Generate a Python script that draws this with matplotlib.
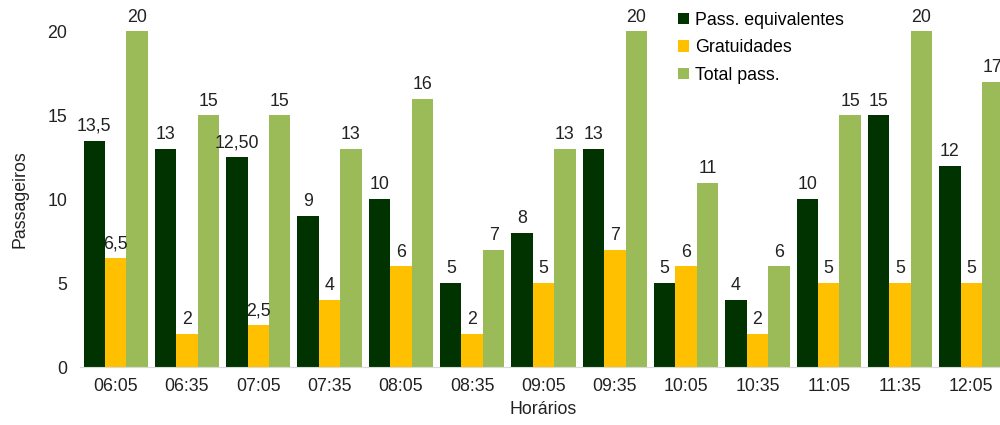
import numpy as np
import matplotlib.pyplot as plt

plt.rcParams['font.family'] = ['Liberation Sans', 'DejaVu Sans']

horarios = ['06:05', '06:35', '07:05', '07:35', '08:05', '08:35', '09:05',
            '09:35', '10:05', '10:35', '11:05', '11:35', '12:05']
pass_equiv = [13.5, 13, 12.5, 9, 10, 5, 8, 13, 5, 4, 10, 15, 12]
gratuidades = [6.5, 2, 2.5, 4, 6, 2, 5, 7, 6, 2, 5, 5, 5]
total_pass = [20, 15, 15, 13, 16, 7, 13, 20, 11, 6, 15, 20, 17]
equiv_labels = ['13,5', '13', '12,50', '9', '10', '5', '8', '13', '5', '4', '10', '15', '12']
grat_labels = ['6,5', '2', '2,5', '4', '6', '2', '5', '7', '6', '2', '5', '5', '5']

fs = 12.8
fig = plt.figure(figsize=(10, 4.25), dpi=100)
ax = fig.add_axes([0.080, 0.136, 0.927, 0.79])

x = np.arange(len(horarios))
w = 0.3
series = [
    (pass_equiv, equiv_labels, '#003300', 'Pass. equivalentes'),
    (gratuidades, grat_labels, '#FFC000', 'Gratuidades'),
    (total_pass, [str(v) for v in total_pass], '#9BBB59', 'Total pass.'),
]
for i, (vals, labs, col, name) in enumerate(series):
    bars = ax.bar(x + (i - 1) * w, vals, w, color=col, label=name)
    for b, lab in zip(bars, labs):
        ax.text(b.get_x() + b.get_width() / 2, b.get_height() + 0.35, lab,
                ha='center', va='bottom', fontsize=fs, color='#222222', clip_on=False)

ax.set_xlim(-0.5, 12.5)
ax.set_ylim(0, 20)
ax.set_yticks([0, 5, 10, 15, 20])
ax.set_xticks(x)
ax.set_xticklabels(horarios)
ax.tick_params(axis='both', length=0, labelsize=fs, colors='#222222')
ax.tick_params(axis='y', pad=9)
ax.tick_params(axis='x', pad=8)
for s in ['top', 'right', 'left']:
    ax.spines[s].set_visible(False)
ax.spines['bottom'].set_color('#d9d9d9')
ax.set_xlabel('Horários', fontsize=fs, color='#222222', labelpad=4)
ax.set_ylabel('Passageiros', fontsize=fs, color='#222222', labelpad=14)

leg = ax.legend(loc='upper left', bbox_to_anchor=(0.628, 1.107), frameon=False,
                fontsize=fs, handlelength=0.6, handleheight=0.6, handletextpad=0.35,
                labelspacing=0.6)

fig.savefig('out.png', dpi=100)
